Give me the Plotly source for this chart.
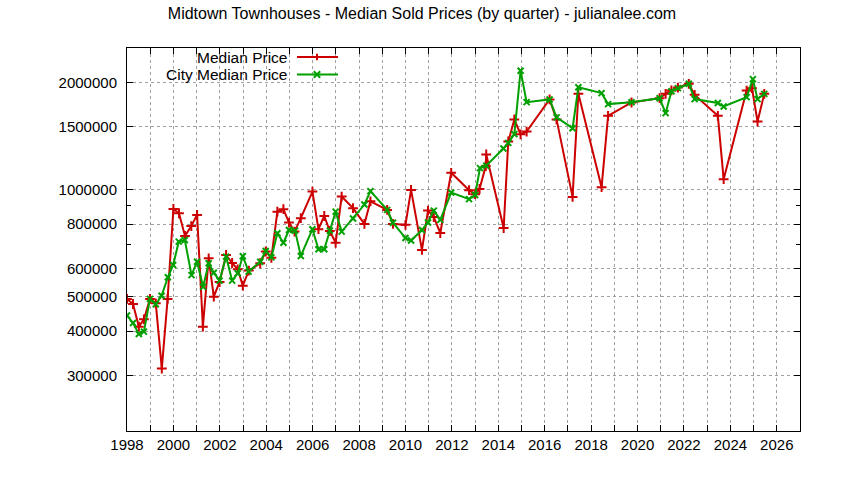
import math
import plotly.graph_objects as go

# ---- data ----
median_years = [
    1998.00, 1998.26, 1998.51, 1998.73, 1998.99, 1999.24, 1999.50, 1999.75,
    2000.00, 2000.24, 2000.50, 2000.77, 2001.02, 2001.27, 2001.52, 2001.74,
    2001.99, 2002.27, 2002.53, 2002.77, 2002.99, 2003.25, 2003.74, 2003.98,
    2004.22, 2004.48, 2004.74, 2004.98, 2005.22, 2005.49, 2005.99, 2006.25,
    2006.50, 2006.74, 2006.99, 2007.25, 2007.74, 2008.23, 2008.49, 2009.21,
    2009.46, 2010.00, 2010.24, 2010.71, 2010.97, 2011.22, 2011.50, 2011.97,
    2012.74, 2013.00, 2013.19, 2013.46, 2013.48, 2014.23, 2014.43, 2014.69,
    2014.96, 2015.22, 2016.21, 2016.51, 2017.20, 2017.45, 2018.45, 2018.73,
    2019.74, 2020.95, 2021.21, 2021.46, 2021.74, 2022.21, 2022.46, 2023.46,
    2023.71, 2024.70, 2024.93, 2025.17, 2025.46,
]
median_price = [
    493000, 477000, 412000, 432000, 493000, 479000, 314000, 493000,
    882000, 858000, 741000, 790000, 849000, 412000, 641000, 500000,
    550000, 655000, 622000, 597000, 537000, 592000, 621000, 670000,
    643000, 867000, 881000, 808000, 762000, 831000, 987000, 774000,
    843000, 765000, 709000, 956000, 887000, 801000, 927000, 877000,
    801000, 796000, 998000, 677000, 873000, 837000, 755000, 1115000,
    996000, 971000, 1004000, 1165000, 1255000, 780000, 1365000, 1574000,
    1430000, 1456000, 1792000, 1575000, 954000, 1860000, 1016000, 1612000,
    1757000, 1807000, 1858000, 1900000, 1935000, 1983000, 1846000, 1612000,
    1070000, 1898000, 1928000, 1554000, 1858000,
]

city_years = [
    1998.00, 1998.26, 1998.51, 1998.73, 1998.99, 1999.24, 1999.49, 1999.76,
    1999.99, 2000.23, 2000.49, 2000.78, 2001.02, 2001.28, 2001.52, 2001.74,
    2001.99, 2002.27, 2002.53, 2002.77, 2002.99, 2003.24, 2003.74, 2003.98,
    2004.22, 2004.48, 2004.74, 2004.98, 2005.24, 2005.49, 2005.99, 2006.25,
    2006.50, 2006.74, 2006.99, 2007.25, 2007.74, 2008.23, 2008.49, 2009.21,
    2009.46, 2010.00, 2010.24, 2010.71, 2010.97, 2011.22, 2011.50, 2011.97,
    2012.74, 2013.00, 2013.21, 2013.48, 2014.22, 2014.43, 2014.69, 2014.96,
    2015.22, 2016.21, 2016.51, 2017.20, 2017.45, 2018.45, 2018.73, 2019.74,
    2020.95, 2021.21, 2021.46, 2021.74, 2022.21, 2022.46, 2023.46, 2023.71,
    2024.70, 2024.97, 2025.17, 2025.46,
]
city_price = [
    443000, 422000, 393000, 399000, 493000, 476000, 503000, 567000,
    614000, 714000, 722000, 575000, 627000, 533000, 621000, 584000,
    555000, 648000, 555000, 582000, 650000, 588000, 627000, 672000,
    645000, 754000, 709000, 770000, 767000, 651000, 774000, 680000,
    680000, 767000, 867000, 762000, 829000, 908000, 990000, 877000,
    807000, 731000, 719000, 770000, 808000, 873000, 822000, 981000,
    940000, 966000, 1149000, 1167000, 1305000, 1353000, 1432000, 2158000,
    1761000, 1792000, 1596000, 1488000, 1939000, 1867000, 1739000, 1759000,
    1807000, 1640000, 1890000, 1928000, 1983000, 1796000, 1751000, 1712000,
    1819000, 2044000, 1796000, 1858000,
]

y_tick_vals = [300000, 400000, 500000, 600000, 800000, 1000000, 1500000, 2000000]
y_minor_vals = [700000, 900000]
series_names = ["Median Price", "City Median Price"]
title_text = "Midtown Townhouses - Median Sold Prices (by quarter) - julianalee.com"

RED = "#cc0000"
GREEN = "#00a000"
FONT = "Liberation Sans, Arial, sans-serif"
GRID = "#a0a0a0"

fig = go.Figure()
fig.add_trace(go.Scatter(
    x=median_years, y=median_price, mode="lines+markers", name=series_names[0],
    line=dict(color=RED, width=2),
    marker=dict(symbol="cross-thin", size=7, line=dict(color=RED, width=2)),
    showlegend=False,
))
fig.add_trace(go.Scatter(
    x=city_years, y=city_price, mode="lines+markers", name=series_names[1],
    line=dict(color=GREEN, width=2),
    marker=dict(symbol="x-thin", size=6, line=dict(color=GREEN, width=2)),
    showlegend=False,
))

# gnuplot-style key: text right-aligned, sample to its right
W_PLOT = 673.0
H_PLOT = 383.0
key_text_x = (288 - 127) / W_PLOT
key_line_x0 = (297 - 127) / W_PLOT
key_line_x1 = (338 - 127) / W_PLOT
key_mark_x = (317 - 127) / W_PLOT
key_rows = [(431 - 57.0) / H_PLOT, (431 - 74.5) / H_PLOT]
colors = [RED, GREEN]
dx = 3.2 / W_PLOT
dy = 3.2 / H_PLOT
for name, yy, col, sym in zip(series_names, key_rows, colors, ["+", "x"]):
    fig.add_annotation(x=key_text_x, y=yy, xref="paper", yref="paper",
                       text=name, showarrow=False, xanchor="right", yanchor="middle",
                       borderpad=0,
                       font=dict(family=FONT, size=15.5, color="black"))
    fig.add_shape(type="line", xref="paper", yref="paper",
                  x0=key_line_x0, x1=key_line_x1, y0=yy, y1=yy,
                  line=dict(color=col, width=2))
    if sym == "+":
        path = (f"M{key_mark_x - dx},{yy} L{key_mark_x + dx},{yy} "
                f"M{key_mark_x},{yy - dy} L{key_mark_x},{yy + dy}")
    else:
        path = (f"M{key_mark_x - dx},{yy - dy} L{key_mark_x + dx},{yy + dy} "
                f"M{key_mark_x - dx},{yy + dy} L{key_mark_x + dx},{yy - dy}")
    fig.add_shape(type="path", xref="paper", yref="paper", path=path,
                  line=dict(color=col, width=2))

fig.update_layout(
    width=844, height=480,
    margin=dict(l=127, r=44, t=48, b=49),
    paper_bgcolor="white", plot_bgcolor="white",
    font=dict(family=FONT, size=14, color="black"),
    title=dict(text=title_text, x=0.5, xref="container", xanchor="center",
               y=1 - 13 / 480, yref="container", yanchor="middle",
               font=dict(family=FONT, size=16, color="black")),
    showlegend=False,
)
fig.update_xaxes(
    range=[1998, 2027], dtick=2, tick0=1998, tickformat="d",
    showline=True, linecolor="black", linewidth=1, mirror="ticks",
    ticks="inside", ticklen=6, tickcolor="black",
    showgrid=True, gridcolor=GRID, griddash="3px,3px", gridwidth=1,
    minor=dict(dtick=1, tick0=1998, ticks="inside", ticklen=6, tickcolor="black",
               showgrid=True, gridcolor=GRID, griddash="3px,3px", gridwidth=1),
    zeroline=False, ticklabelstandoff=0,
    tickfont=dict(family=FONT, size=15),
)
fig.update_yaxes(
    type="log", range=[math.log10(209700), math.log10(2500000)],
    tickmode="array", tickvals=y_tick_vals, ticktext=[str(v) for v in y_tick_vals],
    showline=True, linecolor="black", linewidth=1, mirror="ticks",
    ticks="inside", ticklen=6, tickcolor="black",
    showgrid=True, gridcolor=GRID, griddash="3px,3px", gridwidth=1,
    minor=dict(tickmode="array", tickvals=y_minor_vals, ticks="inside", ticklen=4,
               tickcolor="black", showgrid=False),
    zeroline=False, ticklabelstandoff=6,
    tickfont=dict(family=FONT, size=15),
)

fig.write_html("out.html", config={"displayModeBar": False},
               post_script="document.body.style.margin='0px';")
